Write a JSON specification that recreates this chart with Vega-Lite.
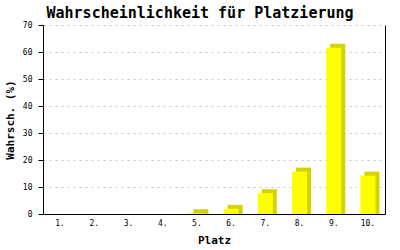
{
  "$schema": "https://vega.github.io/schema/vega-lite/v6.json",
  "width": 342,
  "height": 189,
  "autosize": {"type": "none"},
  "padding": {"left": 43, "top": 25, "right": 15, "bottom": 36},
  "background": "white",
  "title": {
    "text": "Wahrscheinlichkeit für Platzierung",
    "font": "DejaVu Sans Mono",
    "fontSize": 15,
    "fontWeight": "bold",
    "color": "black",
    "anchor": "middle",
    "dx": -14,
    "offset": 0
  },
  "data": {
    "values": [
      {"platz": "1.", "p": 0},
      {"platz": "2.", "p": 0},
      {"platz": "3.", "p": 0},
      {"platz": "4.", "p": 0},
      {"platz": "5.", "p": 0.3},
      {"platz": "6.", "p": 1.9},
      {"platz": "7.", "p": 7.7},
      {"platz": "8.", "p": 15.7},
      {"platz": "9.", "p": 61.6},
      {"platz": "10.", "p": 14.2}
    ]
  },
  "config": {
    "view": {"stroke": null},
    "axis": {
      "labelFont": "DejaVu Sans Mono",
      "labelFontSize": 8,
      "labelColor": "black",
      "titleFont": "DejaVu Sans Mono",
      "titleFontSize": 11,
      "titleFontWeight": "bold",
      "titleColor": "black",
      "domainColor": "black",
      "tickColor": "black"
    }
  },
  "resolve": {"axis": {"y": "independent"}},
  "layer": [
    {
      "transform": [{"filter": "datum.p > 0"}],
      "mark": {"type": "bar", "size": 15, "color": "#d6d200", "xOffset": 4, "yOffset": -4, "y2Offset": 0},
      "encoding": {
        "x": {
          "field": "platz", "type": "ordinal", "sort": null,
          "scale": {"domain": ["1.", "2.", "3.", "4.", "5.", "6.", "7.", "8.", "9.", "10."], "paddingInner": 0, "paddingOuter": 0},
          "axis": {"title": "Platz", "labelAngle": 0, "ticks": false, "labelPadding": 5, "titlePadding": 7, "grid": false}
        },
        "y": {
          "field": "p", "type": "quantitative",
          "scale": {"domain": [0, 70], "nice": false},
          "axis": {
            "title": "Wahrsch. (%)", "values": [0, 10, 20, 30, 40, 50, 60, 70],
            "tickSize": 5, "labelPadding": 6, "titlePadding": 7,
            "grid": true, "gridColor": "#c4c4c4", "gridDash": [2, 4], "gridWidth": 1
          }
        },
        "y2": {"datum": 0}
      }
    },
    {
      "mark": {"type": "bar", "size": 15, "color": "#ffff00"},
      "encoding": {
        "x": {"field": "platz", "type": "ordinal", "sort": null},
        "y": {
          "field": "p", "type": "quantitative",
          "axis": {"orient": "right", "title": null, "labels": false, "ticks": false, "grid": false}
        }
      }
    }
  ]
}
